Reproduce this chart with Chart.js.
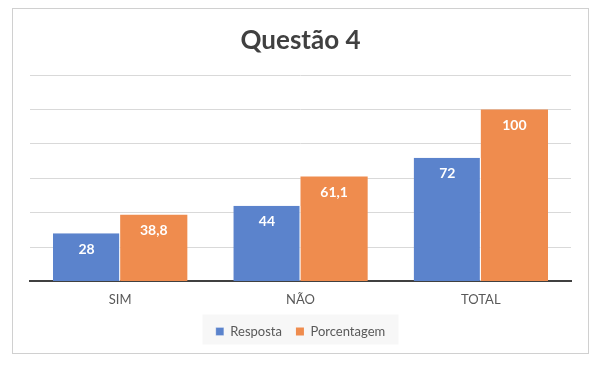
<!DOCTYPE html>
<html>
<head>
<meta charset="utf-8">
<script src="https://cdn.jsdelivr.net/npm/chart.js@4"></script>
<style>
  html, body { margin: 0; padding: 0; background: #fff; }
  #wrap { position: relative; width: 607px; height: 366px; }
  #frame { position: absolute; left: 12px; top: 8px; width: 577px; height: 346px; border: 1px solid #d0d0d0; box-sizing: border-box; }
  canvas { position: absolute; left: 0; top: 0; }
</style>
</head>
<body>
<div id="wrap">
  <div id="frame"></div>
  <canvas id="chart" width="607" height="366"></canvas>
</div>
<script>
const CATEGORIES = ['SIM', 'NÃO', 'TOTAL'];
const RESPOSTA = [28, 44, 72];
const PORCENTAGEM = [38.8, 61.1, 100];
const Y_MAX = 120;
const Y_STEP = 20;

const fmt = v => String(v).replace('.', ',');

// white value labels just under the top of each bar
const barLabels = {
    id: 'barLabels',
    afterDatasetsDraw(chart) {
        const ctx = chart.ctx;
        ctx.save();
        ctx.font = 'bold 14px Lato';
        ctx.fillStyle = '#ffffff';
        ctx.textAlign = 'center';
        ctx.textBaseline = 'middle';
        chart.data.datasets.forEach((ds, i) => {
            chart.getDatasetMeta(i).data.forEach((bar, j) => {
                ctx.fillText(fmt(ds.data[j]), bar.x, bar.y + 16);
            });
        });
        ctx.restore();
    }
};

// light grey box behind the legend
const legendBox = {
    id: 'legendBox',
    beforeDraw(chart) {
        const lg = chart.legend;
        if (!lg) return;
        const ctx = chart.ctx;
        ctx.save();
        ctx.fillStyle = '#f7f7f7';
        const cx = (chart.chartArea.left + chart.chartArea.right) / 2;
        const cy = lg.top + lg.height / 2;
        ctx.fillRect(cx - 98, cy - 15, 196, 30);
        ctx.restore();
    }
};

new Chart(document.getElementById('chart'), {
    type: 'bar',
    data: {
        labels: CATEGORIES,
        datasets: [
            {
                label: 'Resposta',
                data: RESPOSTA,
                backgroundColor: '#5b83cc',
                borderColor: '#ffffff',
                borderWidth: { left: 0, right: 1, top: 0, bottom: 0 }
            },
            {
                label: 'Porcentagem',
                data: PORCENTAGEM,
                backgroundColor: '#ef8c4e',
                borderColor: '#ffffff',
                borderWidth: 0
            }
        ]
    },
    options: {
        responsive: false,
        animation: false,
        layout: { padding: { left: 30, right: 36, top: 0, bottom: 18 } },
        datasets: { bar: { categoryPercentage: 0.745, barPercentage: 1.0 } },
        scales: {
            x: {
                grid: { display: false },
                border: { color: '#404040', width: 2 },
                ticks: { color: '#595959', font: { family: 'Lato', size: 13 }, padding: 3 }
            },
            y: {
                min: 0,
                max: Y_MAX,
                ticks: { display: false, stepSize: Y_STEP },
                border: { display: false },
                grid: { color: '#d9d9d9', lineWidth: 1, drawTicks: false }
            }
        },
        plugins: {
            title: {
                display: true,
                text: 'Questão 4',
                color: '#404040',
                font: { family: 'Lato', size: 26, weight: 'bold' },
                padding: { top: 25, bottom: 19 }
            },
            legend: {
                position: 'bottom',
                labels: {
                    color: '#595959',
                    font: { family: 'Lato', size: 13 },
                    boxWidth: 8,
                    boxHeight: 8,
                    padding: 14
                }
            },
            tooltip: { enabled: false }
        }
    },
    plugins: [legendBox, barLabels]
});
</script>
</body>
</html>
